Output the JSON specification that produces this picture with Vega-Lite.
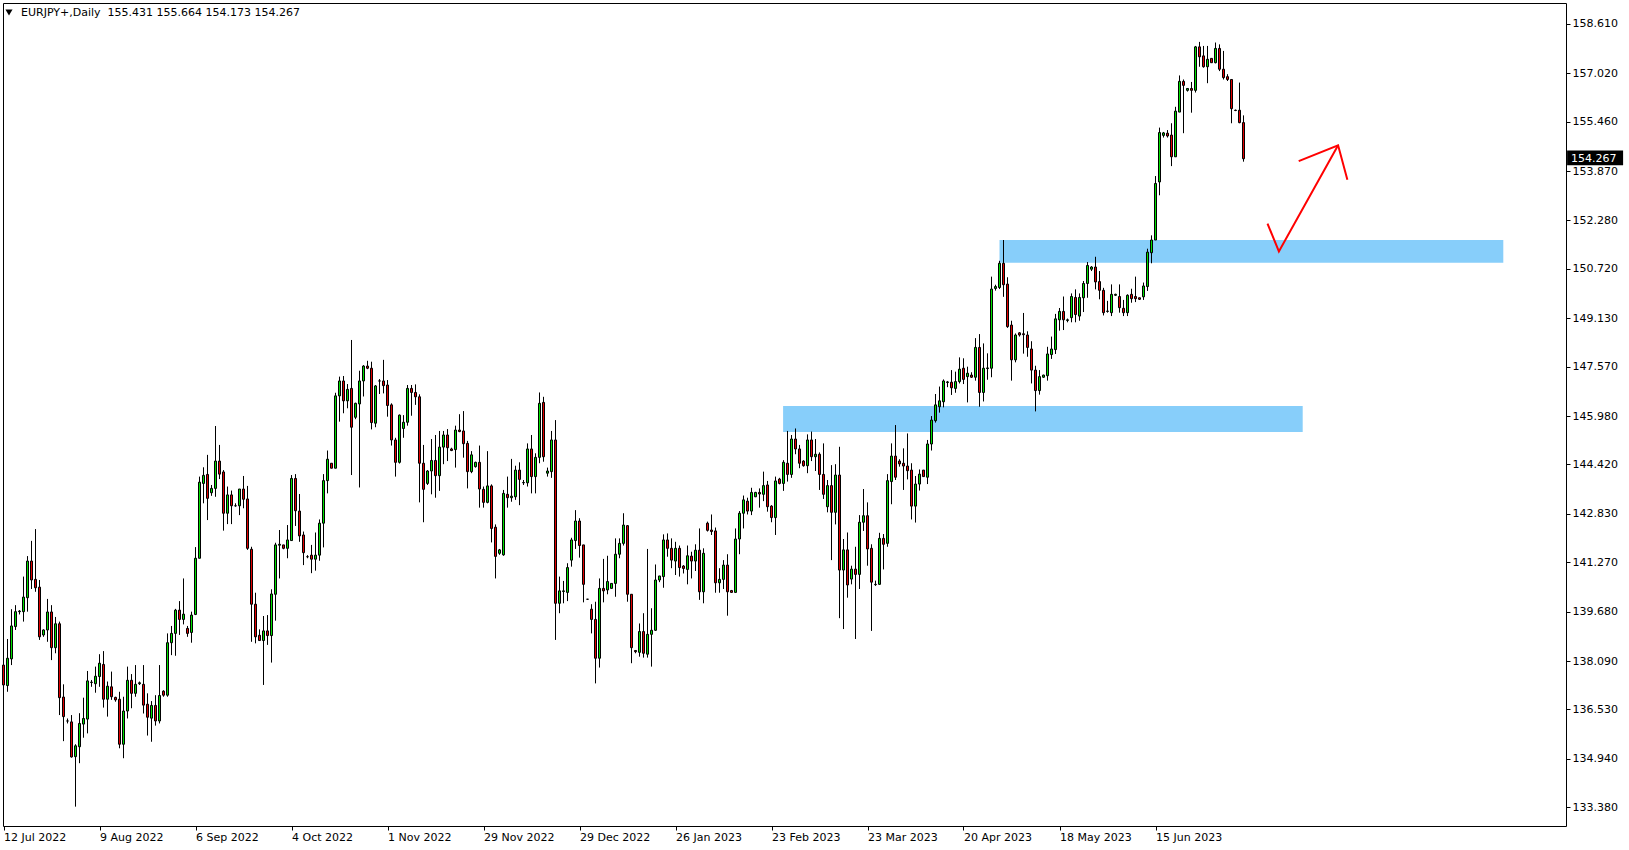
{
"$schema":"https://vega.github.io/schema/vega-lite/v6.json",
"width":1563,"height":823,
"autosize":{"type":"none"},
"padding":{"left":3,"top":3,"right":63,"bottom":24},
"background":"white",
"config":{"view":{"stroke":"black","strokeWidth":1},"font":"DejaVu Sans"},
"datasets":{
"candles":[
{"i":0,"o":137.96,"h":138.09,"l":137.00,"c":137.32},
{"i":1,"o":137.30,"h":138.80,"l":137.10,"c":138.18},
{"i":2,"o":138.16,"h":139.76,"l":137.96,"c":139.22},
{"i":3,"o":139.20,"h":139.89,"l":139.09,"c":139.68},
{"i":4,"o":139.68,"h":139.73,"l":139.59,"c":139.70},
{"i":5,"o":139.68,"h":140.81,"l":139.36,"c":140.15},
{"i":6,"o":140.13,"h":141.47,"l":139.68,"c":141.31},
{"i":7,"o":141.31,"h":141.96,"l":140.41,"c":140.70},
{"i":8,"o":140.72,"h":142.34,"l":140.32,"c":140.45},
{"i":9,"o":140.47,"h":140.70,"l":138.77,"c":138.87},
{"i":10,"o":138.93,"h":139.11,"l":138.87,"c":139.09},
{"i":11,"o":139.09,"h":140.09,"l":138.71,"c":139.67},
{"i":12,"o":139.67,"h":139.89,"l":138.12,"c":138.52},
{"i":13,"o":138.52,"h":139.51,"l":138.34,"c":139.29},
{"i":14,"o":139.29,"h":139.36,"l":136.35,"c":136.91},
{"i":15,"o":136.93,"h":137.34,"l":135.51,"c":136.30},
{"i":16,"o":136.16,"h":136.24,"l":136.08,"c":136.16},
{"i":17,"o":136.13,"h":136.35,"l":134.98,"c":135.00},
{"i":18,"o":135.01,"h":135.41,"l":133.40,"c":135.36},
{"i":19,"o":135.33,"h":136.41,"l":134.80,"c":136.08},
{"i":20,"o":136.06,"h":136.91,"l":135.62,"c":136.24},
{"i":21,"o":136.22,"h":137.77,"l":135.76,"c":137.45},
{"i":22,"o":137.40,"h":137.48,"l":137.26,"c":137.41},
{"i":23,"o":137.36,"h":137.91,"l":137.07,"c":137.60},
{"i":24,"o":137.59,"h":138.31,"l":137.26,"c":138.02},
{"i":25,"o":137.98,"h":138.41,"l":136.59,"c":136.86},
{"i":26,"o":136.86,"h":137.43,"l":136.30,"c":137.28},
{"i":27,"o":137.26,"h":137.75,"l":136.84,"c":136.94},
{"i":28,"o":136.92,"h":136.94,"l":136.78,"c":136.84},
{"i":29,"o":136.86,"h":137.10,"l":135.28,"c":135.41},
{"i":30,"o":135.41,"h":136.94,"l":134.96,"c":136.48},
{"i":31,"o":136.48,"h":137.91,"l":136.24,"c":137.47},
{"i":32,"o":137.47,"h":137.67,"l":136.57,"c":137.05},
{"i":33,"o":137.05,"h":137.96,"l":136.94,"c":137.34},
{"i":34,"o":137.36,"h":137.43,"l":137.32,"c":137.39},
{"i":35,"o":137.34,"h":137.96,"l":136.40,"c":136.67},
{"i":36,"o":136.70,"h":137.05,"l":135.69,"c":136.28},
{"i":37,"o":136.25,"h":136.80,"l":135.49,"c":136.66},
{"i":38,"o":136.66,"h":136.99,"l":136.01,"c":136.16},
{"i":39,"o":136.16,"h":137.96,"l":136.08,"c":136.98},
{"i":40,"o":137.12,"h":137.15,"l":136.94,"c":136.99},
{"i":41,"o":136.99,"h":138.98,"l":136.94,"c":138.68},
{"i":42,"o":138.68,"h":139.22,"l":138.28,"c":138.98},
{"i":43,"o":138.98,"h":139.77,"l":138.26,"c":139.73},
{"i":44,"o":139.73,"h":140.02,"l":138.93,"c":139.43},
{"i":45,"o":139.43,"h":140.75,"l":139.27,"c":139.60},
{"i":46,"o":139.14,"h":139.22,"l":138.87,"c":138.98},
{"i":47,"o":139.01,"h":139.68,"l":138.68,"c":139.57},
{"i":48,"o":139.59,"h":141.76,"l":139.57,"c":141.40},
{"i":49,"o":141.40,"h":144.03,"l":141.40,"c":143.85},
{"i":50,"o":143.81,"h":144.33,"l":143.17,"c":144.07},
{"i":51,"o":144.10,"h":144.73,"l":142.63,"c":143.33},
{"i":52,"o":143.51,"h":143.76,"l":143.41,"c":143.65},
{"i":53,"o":143.65,"h":145.66,"l":143.38,"c":144.53},
{"i":54,"o":144.53,"h":145.05,"l":143.95,"c":144.11},
{"i":55,"o":144.18,"h":144.24,"l":142.29,"c":142.85},
{"i":56,"o":142.85,"h":143.71,"l":142.50,"c":143.44},
{"i":57,"o":143.44,"h":143.58,"l":142.50,"c":143.09},
{"i":58,"o":143.09,"h":143.17,"l":143.06,"c":143.09},
{"i":59,"o":143.09,"h":143.63,"l":142.79,"c":143.63},
{"i":60,"o":143.63,"h":144.05,"l":143.01,"c":143.30},
{"i":61,"o":143.31,"h":143.73,"l":141.67,"c":141.72},
{"i":62,"o":141.69,"h":141.77,"l":138.71,"c":139.92},
{"i":63,"o":139.92,"h":140.29,"l":138.66,"c":138.87},
{"i":64,"o":138.92,"h":139.11,"l":138.75,"c":138.75},
{"i":65,"o":138.75,"h":139.54,"l":137.32,"c":139.06},
{"i":66,"o":139.06,"h":139.57,"l":138.61,"c":138.91},
{"i":67,"o":138.91,"h":140.40,"l":138.04,"c":140.25},
{"i":68,"o":140.24,"h":141.90,"l":139.39,"c":141.83},
{"i":69,"o":141.82,"h":142.31,"l":140.75,"c":141.85},
{"i":70,"o":141.83,"h":141.83,"l":141.69,"c":141.72},
{"i":71,"o":141.72,"h":142.47,"l":141.40,"c":141.99},
{"i":72,"o":141.97,"h":144.08,"l":141.97,"c":143.97},
{"i":73,"o":143.97,"h":144.11,"l":142.44,"c":142.93},
{"i":74,"o":142.92,"h":143.47,"l":141.93,"c":142.12},
{"i":75,"o":142.15,"h":142.26,"l":141.18,"c":141.58},
{"i":76,"o":141.45,"h":141.50,"l":141.40,"c":141.45},
{"i":77,"o":141.50,"h":141.83,"l":140.92,"c":141.37},
{"i":78,"o":141.37,"h":142.23,"l":141.00,"c":141.50},
{"i":79,"o":141.50,"h":142.65,"l":141.32,"c":142.53},
{"i":80,"o":142.53,"h":144.11,"l":141.75,"c":143.90},
{"i":81,"o":143.90,"h":144.87,"l":143.49,"c":144.59},
{"i":82,"o":144.46,"h":144.46,"l":144.30,"c":144.30},
{"i":83,"o":144.30,"h":146.73,"l":144.30,"c":146.63},
{"i":84,"o":146.63,"h":147.25,"l":145.80,"c":147.11},
{"i":85,"o":147.11,"h":147.27,"l":146.07,"c":146.47},
{"i":86,"o":146.47,"h":147.01,"l":146.23,"c":146.84},
{"i":87,"o":146.87,"h":148.43,"l":144.08,"c":145.62},
{"i":88,"o":145.94,"h":146.41,"l":145.88,"c":146.39},
{"i":89,"o":146.37,"h":147.44,"l":143.68,"c":147.11},
{"i":90,"o":147.11,"h":147.62,"l":146.61,"c":147.59},
{"i":91,"o":147.59,"h":147.76,"l":147.49,"c":147.52},
{"i":92,"o":147.52,"h":147.73,"l":145.55,"c":145.77},
{"i":93,"o":145.75,"h":146.98,"l":145.62,"c":146.95},
{"i":94,"o":147.11,"h":147.17,"l":146.69,"c":147.11},
{"i":95,"o":147.11,"h":147.79,"l":146.71,"c":146.96},
{"i":96,"o":146.98,"h":147.14,"l":145.96,"c":146.32},
{"i":97,"o":146.34,"h":146.39,"l":145.03,"c":145.21},
{"i":98,"o":145.21,"h":145.28,"l":144.03,"c":144.49},
{"i":99,"o":144.49,"h":146.03,"l":144.45,"c":146.01},
{"i":100,"o":145.58,"h":146.01,"l":145.28,"c":145.78},
{"i":101,"o":145.78,"h":146.98,"l":145.67,"c":146.87},
{"i":102,"o":146.87,"h":146.98,"l":145.99,"c":146.74},
{"i":103,"o":146.74,"h":147.00,"l":146.34,"c":146.60},
{"i":104,"o":146.60,"h":146.68,"l":143.20,"c":144.46},
{"i":105,"o":144.46,"h":145.05,"l":142.56,"c":143.62},
{"i":106,"o":143.81,"h":144.24,"l":143.76,"c":144.21},
{"i":107,"o":144.21,"h":145.24,"l":143.46,"c":144.55},
{"i":108,"o":144.55,"h":145.37,"l":143.35,"c":144.06},
{"i":109,"o":144.06,"h":145.50,"l":143.57,"c":144.98},
{"i":110,"o":144.98,"h":145.50,"l":144.43,"c":145.37},
{"i":111,"o":145.37,"h":145.56,"l":144.53,"c":144.96},
{"i":112,"o":144.92,"h":144.96,"l":144.85,"c":144.87},
{"i":113,"o":144.90,"h":145.67,"l":144.32,"c":145.53},
{"i":114,"o":145.53,"h":146.04,"l":145.46,"c":145.48},
{"i":115,"o":145.50,"h":146.14,"l":144.64,"c":145.09},
{"i":116,"o":145.10,"h":145.18,"l":143.65,"c":144.19},
{"i":117,"o":144.19,"h":144.85,"l":144.14,"c":144.73},
{"i":118,"o":144.35,"h":144.51,"l":144.32,"c":144.49},
{"i":119,"o":144.49,"h":145.03,"l":143.03,"c":143.63},
{"i":120,"o":143.62,"h":143.71,"l":143.03,"c":143.20},
{"i":121,"o":143.20,"h":144.85,"l":143.17,"c":143.73},
{"i":122,"o":143.73,"h":143.78,"l":141.91,"c":142.36},
{"i":123,"o":142.40,"h":142.49,"l":140.75,"c":141.46},
{"i":124,"o":141.56,"h":141.70,"l":141.51,"c":141.67},
{"i":125,"o":141.51,"h":143.60,"l":141.48,"c":143.49},
{"i":126,"o":143.46,"h":144.03,"l":143.03,"c":143.35},
{"i":127,"o":143.35,"h":144.60,"l":143.22,"c":143.40},
{"i":128,"o":143.38,"h":144.38,"l":143.28,"c":144.24},
{"i":129,"o":144.24,"h":144.49,"l":143.11,"c":143.94},
{"i":130,"o":143.83,"h":143.92,"l":143.76,"c":143.84},
{"i":131,"o":143.83,"h":145.10,"l":143.71,"c":144.92},
{"i":132,"o":144.92,"h":145.37,"l":143.49,"c":144.03},
{"i":133,"o":144.03,"h":144.78,"l":143.49,"c":144.65},
{"i":134,"o":144.65,"h":146.74,"l":144.46,"c":146.39},
{"i":135,"o":146.42,"h":146.60,"l":144.51,"c":144.67},
{"i":136,"o":144.14,"h":144.32,"l":144.03,"c":144.21},
{"i":137,"o":144.19,"h":145.50,"l":143.99,"c":145.21},
{"i":138,"o":145.21,"h":145.85,"l":138.77,"c":139.95},
{"i":139,"o":139.95,"h":140.81,"l":139.63,"c":140.35},
{"i":140,"o":140.33,"h":140.67,"l":139.95,"c":140.35},
{"i":141,"o":140.30,"h":141.24,"l":140.02,"c":141.10},
{"i":142,"o":141.34,"h":142.06,"l":141.13,"c":141.99},
{"i":143,"o":141.97,"h":142.95,"l":141.70,"c":142.60},
{"i":144,"o":142.60,"h":142.69,"l":141.42,"c":141.81},
{"i":145,"o":141.83,"h":141.83,"l":139.98,"c":140.56},
{"i":146,"o":140.08,"h":140.09,"l":140.07,"c":140.08},
{"i":147,"o":139.76,"h":139.92,"l":138.98,"c":139.43},
{"i":148,"o":139.43,"h":140.00,"l":137.37,"c":138.18},
{"i":149,"o":138.18,"h":140.75,"l":137.88,"c":140.43},
{"i":150,"o":140.43,"h":141.38,"l":139.98,"c":140.35},
{"i":151,"o":140.38,"h":141.48,"l":140.24,"c":140.65},
{"i":152,"o":140.43,"h":140.59,"l":140.43,"c":140.59},
{"i":153,"o":140.59,"h":142.04,"l":140.16,"c":141.53},
{"i":154,"o":141.53,"h":142.04,"l":141.40,"c":141.88},
{"i":155,"o":141.88,"h":142.85,"l":141.81,"c":142.47},
{"i":156,"o":142.45,"h":142.47,"l":140.00,"c":140.24},
{"i":157,"o":140.24,"h":140.24,"l":138.02,"c":138.52},
{"i":158,"o":138.43,"h":138.43,"l":138.34,"c":138.39},
{"i":159,"o":138.37,"h":139.30,"l":138.23,"c":139.04},
{"i":160,"o":139.04,"h":139.63,"l":138.20,"c":138.34},
{"i":161,"o":138.31,"h":141.70,"l":138.20,"c":138.95},
{"i":162,"o":138.95,"h":139.79,"l":137.91,"c":139.08},
{"i":163,"o":139.08,"h":141.20,"l":139.06,"c":140.70},
{"i":164,"o":140.70,"h":140.83,"l":140.63,"c":140.83},
{"i":165,"o":140.81,"h":142.17,"l":140.45,"c":141.99},
{"i":166,"o":141.99,"h":142.20,"l":141.45,"c":141.72},
{"i":167,"o":141.72,"h":142.04,"l":141.08,"c":141.34},
{"i":168,"o":141.31,"h":141.93,"l":140.86,"c":141.72},
{"i":169,"o":141.72,"h":141.81,"l":140.81,"c":141.10},
{"i":170,"o":141.15,"h":141.18,"l":140.91,"c":141.07},
{"i":171,"o":141.04,"h":141.81,"l":140.56,"c":141.48},
{"i":172,"o":141.47,"h":141.61,"l":140.75,"c":141.31},
{"i":173,"o":141.31,"h":141.85,"l":140.99,"c":141.66},
{"i":174,"o":141.66,"h":142.36,"l":140.06,"c":140.32},
{"i":175,"o":140.32,"h":141.72,"l":139.95,"c":141.56},
{"i":176,"o":142.53,"h":142.58,"l":142.26,"c":142.30},
{"i":177,"o":142.31,"h":142.81,"l":142.15,"c":142.26},
{"i":178,"o":142.28,"h":142.39,"l":140.29,"c":140.61},
{"i":179,"o":140.61,"h":141.08,"l":140.29,"c":140.72},
{"i":180,"o":140.72,"h":141.34,"l":140.41,"c":141.18},
{"i":181,"o":141.18,"h":141.53,"l":139.55,"c":140.32},
{"i":182,"o":140.36,"h":140.38,"l":140.30,"c":140.30},
{"i":183,"o":140.30,"h":142.36,"l":140.30,"c":142.02},
{"i":184,"o":142.02,"h":142.92,"l":141.53,"c":142.85},
{"i":185,"o":142.85,"h":143.42,"l":142.36,"c":143.28},
{"i":186,"o":143.24,"h":143.35,"l":142.81,"c":142.92},
{"i":187,"o":142.92,"h":143.67,"l":142.79,"c":143.52},
{"i":188,"o":143.38,"h":143.54,"l":143.37,"c":143.52},
{"i":189,"o":143.52,"h":143.65,"l":143.03,"c":143.47},
{"i":190,"o":143.46,"h":144.19,"l":143.24,"c":143.74},
{"i":191,"o":143.76,"h":143.89,"l":142.90,"c":143.06},
{"i":192,"o":143.08,"h":143.11,"l":142.56,"c":142.71},
{"i":193,"o":142.71,"h":144.03,"l":142.15,"c":143.89},
{"i":194,"o":143.95,"h":143.99,"l":143.78,"c":143.81},
{"i":195,"o":143.81,"h":144.56,"l":143.57,"c":144.49},
{"i":196,"o":144.46,"h":145.50,"l":143.87,"c":144.10},
{"i":197,"o":144.10,"h":145.37,"l":143.99,"c":145.24},
{"i":198,"o":145.24,"h":145.58,"l":144.75,"c":144.92},
{"i":199,"o":144.92,"h":145.05,"l":144.30,"c":144.46},
{"i":200,"o":144.53,"h":144.56,"l":144.35,"c":144.38},
{"i":201,"o":144.38,"h":145.39,"l":144.14,"c":145.21},
{"i":202,"o":145.21,"h":145.48,"l":144.53,"c":144.67},
{"i":203,"o":144.67,"h":145.24,"l":144.21,"c":144.75},
{"i":204,"o":144.75,"h":144.81,"l":143.60,"c":144.10},
{"i":205,"o":144.10,"h":145.10,"l":143.31,"c":143.46},
{"i":206,"o":143.06,"h":143.92,"l":142.88,"c":143.74},
{"i":207,"o":143.74,"h":144.40,"l":141.34,"c":142.88},
{"i":208,"o":142.88,"h":144.43,"l":142.49,"c":144.08},
{"i":209,"o":144.08,"h":144.99,"l":139.47,"c":141.02},
{"i":210,"o":141.02,"h":142.02,"l":139.12,"c":141.67},
{"i":211,"o":141.67,"h":142.23,"l":140.13,"c":140.54},
{"i":212,"o":140.73,"h":141.16,"l":140.56,"c":141.05},
{"i":213,"o":141.05,"h":141.77,"l":138.80,"c":140.88},
{"i":214,"o":140.88,"h":142.79,"l":140.41,"c":142.56},
{"i":215,"o":142.56,"h":143.63,"l":142.28,"c":142.77},
{"i":216,"o":142.77,"h":143.20,"l":141.16,"c":141.70},
{"i":217,"o":141.72,"h":141.85,"l":139.06,"c":140.63},
{"i":218,"o":140.55,"h":140.68,"l":140.51,"c":140.56},
{"i":219,"o":140.56,"h":142.22,"l":140.54,"c":142.04},
{"i":220,"o":142.04,"h":142.18,"l":141.04,"c":141.85},
{"i":221,"o":141.88,"h":144.11,"l":141.77,"c":143.90},
{"i":222,"o":143.87,"h":145.10,"l":143.14,"c":144.69},
{"i":223,"o":144.69,"h":145.69,"l":143.92,"c":144.01},
{"i":224,"o":144.53,"h":144.59,"l":144.35,"c":144.44},
{"i":225,"o":144.46,"h":144.94,"l":143.60,"c":144.37},
{"i":226,"o":144.37,"h":145.42,"l":143.94,"c":144.22},
{"i":227,"o":144.24,"h":144.46,"l":142.65,"c":143.08},
{"i":228,"o":143.08,"h":144.05,"l":142.55,"c":143.79},
{"i":229,"o":143.79,"h":144.26,"l":143.58,"c":144.11},
{"i":230,"o":144.24,"h":144.24,"l":144.03,"c":144.03},
{"i":231,"o":144.01,"h":145.21,"l":143.79,"c":145.08},
{"i":232,"o":145.08,"h":145.98,"l":144.87,"c":145.85},
{"i":233,"o":145.83,"h":146.69,"l":145.77,"c":146.34},
{"i":234,"o":146.28,"h":146.93,"l":146.09,"c":146.47},
{"i":235,"o":146.44,"h":147.16,"l":146.26,"c":147.11},
{"i":236,"o":147.06,"h":147.11,"l":146.91,"c":147.08},
{"i":237,"o":147.07,"h":147.46,"l":146.66,"c":146.89},
{"i":238,"o":146.87,"h":147.41,"l":146.73,"c":147.09},
{"i":239,"o":147.09,"h":147.87,"l":147.03,"c":147.49},
{"i":240,"o":147.52,"h":147.84,"l":147.01,"c":147.16},
{"i":241,"o":147.25,"h":147.57,"l":146.42,"c":147.36},
{"i":242,"o":147.30,"h":147.39,"l":147.21,"c":147.23},
{"i":243,"o":147.23,"h":148.49,"l":147.12,"c":148.19},
{"i":244,"o":148.19,"h":148.62,"l":146.28,"c":146.74},
{"i":245,"o":146.74,"h":148.32,"l":146.45,"c":147.52},
{"i":246,"o":147.51,"h":148.00,"l":147.15,"c":147.53},
{"i":247,"o":147.52,"h":150.47,"l":147.23,"c":150.07},
{"i":248,"o":150.09,"h":150.21,"l":150.02,"c":150.15},
{"i":249,"o":150.12,"h":150.98,"l":150.07,"c":150.90},
{"i":250,"o":150.90,"h":151.65,"l":149.82,"c":150.21},
{"i":251,"o":150.23,"h":150.45,"l":148.82,"c":148.86},
{"i":252,"o":148.91,"h":149.05,"l":147.12,"c":147.79},
{"i":253,"o":147.79,"h":148.64,"l":147.71,"c":148.59},
{"i":254,"o":148.66,"h":148.68,"l":148.54,"c":148.59},
{"i":255,"o":148.63,"h":149.30,"l":147.99,"c":148.60},
{"i":256,"o":148.59,"h":148.71,"l":147.89,"c":148.19},
{"i":257,"o":148.14,"h":148.39,"l":147.03,"c":147.46},
{"i":258,"o":147.46,"h":147.60,"l":146.13,"c":146.80},
{"i":259,"o":146.80,"h":147.46,"l":146.67,"c":147.25},
{"i":260,"o":147.23,"h":147.31,"l":147.21,"c":147.30},
{"i":261,"o":147.28,"h":148.21,"l":147.12,"c":147.98},
{"i":262,"o":147.96,"h":148.54,"l":147.82,"c":148.14},
{"i":263,"o":148.12,"h":149.27,"l":147.98,"c":149.11},
{"i":264,"o":149.08,"h":149.46,"l":148.73,"c":149.35},
{"i":265,"o":149.35,"h":149.83,"l":148.75,"c":149.08},
{"i":266,"o":149.06,"h":149.12,"l":149.00,"c":149.08},
{"i":267,"o":149.15,"h":149.93,"l":149.00,"c":149.83},
{"i":268,"o":149.80,"h":150.06,"l":149.00,"c":149.25},
{"i":269,"o":149.20,"h":149.93,"l":149.05,"c":149.80},
{"i":270,"o":149.79,"h":150.33,"l":149.33,"c":150.25},
{"i":271,"o":150.25,"h":150.94,"l":149.79,"c":150.83},
{"i":272,"o":150.71,"h":150.81,"l":150.65,"c":150.78},
{"i":273,"o":150.78,"h":151.11,"l":150.06,"c":150.30},
{"i":274,"o":150.31,"h":150.65,"l":149.74,"c":150.03},
{"i":275,"o":150.03,"h":150.11,"l":149.22,"c":149.31},
{"i":276,"o":149.35,"h":149.69,"l":149.31,"c":149.36},
{"i":277,"o":149.31,"h":150.22,"l":149.20,"c":149.90},
{"i":278,"o":149.87,"h":149.92,"l":149.85,"c":149.90},
{"i":279,"o":149.83,"h":150.22,"l":149.31,"c":149.47},
{"i":280,"o":149.45,"h":149.72,"l":149.20,"c":149.31},
{"i":281,"o":149.31,"h":149.90,"l":149.20,"c":149.87},
{"i":282,"o":149.90,"h":150.08,"l":149.63,"c":149.76},
{"i":283,"o":149.83,"h":150.47,"l":149.65,"c":149.76},
{"i":284,"o":149.79,"h":149.79,"l":149.72,"c":149.74},
{"i":285,"o":149.82,"h":150.28,"l":149.72,"c":150.17},
{"i":286,"o":150.15,"h":151.37,"l":150.01,"c":151.26},
{"i":287,"o":151.24,"h":151.80,"l":150.90,"c":151.65},
{"i":288,"o":151.65,"h":153.71,"l":151.65,"c":153.47},
{"i":289,"o":153.52,"h":155.27,"l":153.09,"c":155.11},
{"i":290,"o":155.02,"h":155.13,"l":154.95,"c":155.10},
{"i":291,"o":155.09,"h":155.19,"l":154.95,"c":155.00},
{"i":292,"o":155.03,"h":155.41,"l":154.03,"c":154.33},
{"i":293,"o":154.33,"h":155.94,"l":154.33,"c":155.80},
{"i":294,"o":155.77,"h":156.95,"l":155.77,"c":156.76},
{"i":295,"o":156.76,"h":156.82,"l":155.09,"c":156.63},
{"i":296,"o":156.47,"h":156.53,"l":156.43,"c":156.53},
{"i":297,"o":156.53,"h":156.74,"l":155.75,"c":156.47},
{"i":298,"o":156.47,"h":157.90,"l":156.40,"c":157.87},
{"i":299,"o":157.87,"h":158.03,"l":157.23,"c":157.55},
{"i":300,"o":157.58,"h":157.90,"l":157.20,"c":157.23},
{"i":301,"o":157.23,"h":157.90,"l":156.70,"c":157.47},
{"i":302,"o":157.50,"h":157.50,"l":157.36,"c":157.36},
{"i":303,"o":157.36,"h":158.01,"l":157.34,"c":157.82},
{"i":304,"o":157.82,"h":157.95,"l":157.09,"c":157.15},
{"i":305,"o":157.15,"h":157.74,"l":156.82,"c":156.88},
{"i":306,"o":156.91,"h":156.99,"l":156.77,"c":156.82},
{"i":307,"o":156.82,"h":156.82,"l":155.41,"c":155.88},
{"i":308,"o":155.83,"h":155.85,"l":155.80,"c":155.82},
{"i":309,"o":155.83,"h":156.72,"l":155.41,"c":155.43},
{"i":310,"o":155.431,"h":155.664,"l":154.173,"c":154.267}
],
"zones":[
{"x1":194.9,"x2":324.8,"y1":145.47,"y2":146.30},
{"x1":249.0,"x2":374.95,"y1":150.92,"y2":151.65}
],
"arrow":[
{"g":"a","k":1,"x":316.0,"y":152.18},
{"g":"a","k":2,"x":318.85,"y":151.28},
{"g":"a","k":3,"x":333.65,"y":154.70},
{"g":"b","k":1,"x":323.8,"y":154.19},
{"g":"b","k":2,"x":333.65,"y":154.70},
{"g":"b","k":3,"x":335.97,"y":153.59}
],
"header":[{"x":4.375,"y":158.977,"t":"EURJPY+,Daily\u00a0\u00a0155.431 155.664 154.173 154.267"}],
"pricebox":[{"x1":390.9,"x2":404.9,"y1":154.06,"y2":154.53,"tx":391.9,"ty":154.267,"t":"154.267"}]
},
"layer":[
{
"data":{"name":"zones"},
"mark":{"type":"rect","color":"#87CEFA","opacity":1},
"encoding":{
"x":{"field":"x1","type":"quantitative","scale":{"domain":[-0.125,390.625],"nice":false,"zero":false,"padding":0},
"axis":{"orient":"bottom","values":[0,24,48,72,96,120,144,168,192,216,240,264,288],
"labelExpr":"['12 Jul 2022','9 Aug 2022','6 Sep 2022','4 Oct 2022','1 Nov 2022','29 Nov 2022','29 Dec 2022','26 Jan 2023','23 Feb 2023','23 Mar 2023','20 Apr 2023','18 May 2023','15 Jun 2023'][round(datum.value/24)]",
"labelAlign":"left","labelBaseline":"top","labelFontSize":11,"labelFont":"DejaVu Sans","labelColor":"black","tickColor":"black","tickSize":4,"labelPadding":1,"domain":false,"grid":false,"title":null,"labelFlush":false,"labelOverlap":false}},
"x2":{"field":"x2"},
"y":{"field":"y1","type":"quantitative","scale":{"domain":[132.777,159.283],"nice":false,"zero":false,"padding":0},
"axis":{"orient":"right","values":[158.61,157.02,155.46,153.87,152.28,150.72,149.13,147.57,145.98,144.42,142.83,141.27,139.68,138.09,136.53,134.94,133.38],
"format":".3f","labelFontSize":11,"labelFont":"DejaVu Sans","labelColor":"black","tickColor":"black","tickSize":4,"labelPadding":2,"domain":false,"grid":false,"title":null,"labelFlush":false,"labelOverlap":false}},
"y2":{"field":"y2"}
}
},
{
"data":{"name":"candles"},
"mark":{"type":"rule","color":"black","strokeWidth":1},
"encoding":{
"x":{"field":"i","type":"quantitative"},
"y":{"field":"l","type":"quantitative"},
"y2":{"field":"h"}
}
},
{
"data":{"name":"candles"},
"mark":{"type":"bar","size":2,"stroke":"black","strokeWidth":1},
"encoding":{
"x":{"field":"i","type":"quantitative"},
"y":{"field":"o","type":"quantitative"},
"y2":{"field":"c"},
"fill":{"condition":{"test":"datum.c >= datum.o","value":"#00E000"},"value":"#E00000"}
}
},
{
"data":{"name":"arrow"},
"mark":{"type":"line","color":"#FF0000","strokeWidth":2},
"encoding":{
"x":{"field":"x","type":"quantitative"},
"y":{"field":"y","type":"quantitative"},
"detail":{"field":"g"},
"order":{"field":"k","type":"quantitative"}
}
},
{
"data":{"name":"header"},
"mark":{"type":"text","align":"left","baseline":"middle","fontSize":11,"font":"DejaVu Sans","color":"black"},
"encoding":{
"x":{"field":"x","type":"quantitative"},
"y":{"field":"y","type":"quantitative"},
"text":{"field":"t"}
}
},
{
"data":{"name":"header"},
"mark":{"type":"point","shape":"triangle-down","filled":true,"color":"black","size":50,"xOffset":-12,"opacity":1},
"encoding":{
"x":{"field":"x","type":"quantitative"},
"y":{"field":"y","type":"quantitative"}
}
},
{
"data":{"name":"pricebox"},
"mark":{"type":"rect","color":"black"},
"encoding":{
"x":{"field":"x1","type":"quantitative"},
"x2":{"field":"x2"},
"y":{"field":"y1","type":"quantitative"},
"y2":{"field":"y2"}
}
},
{
"data":{"name":"pricebox"},
"mark":{"type":"text","align":"left","baseline":"middle","fontSize":11,"font":"DejaVu Sans","color":"white"},
"encoding":{
"x":{"field":"tx","type":"quantitative"},
"y":{"field":"ty","type":"quantitative"},
"text":{"field":"t"}
}
}
]
}
